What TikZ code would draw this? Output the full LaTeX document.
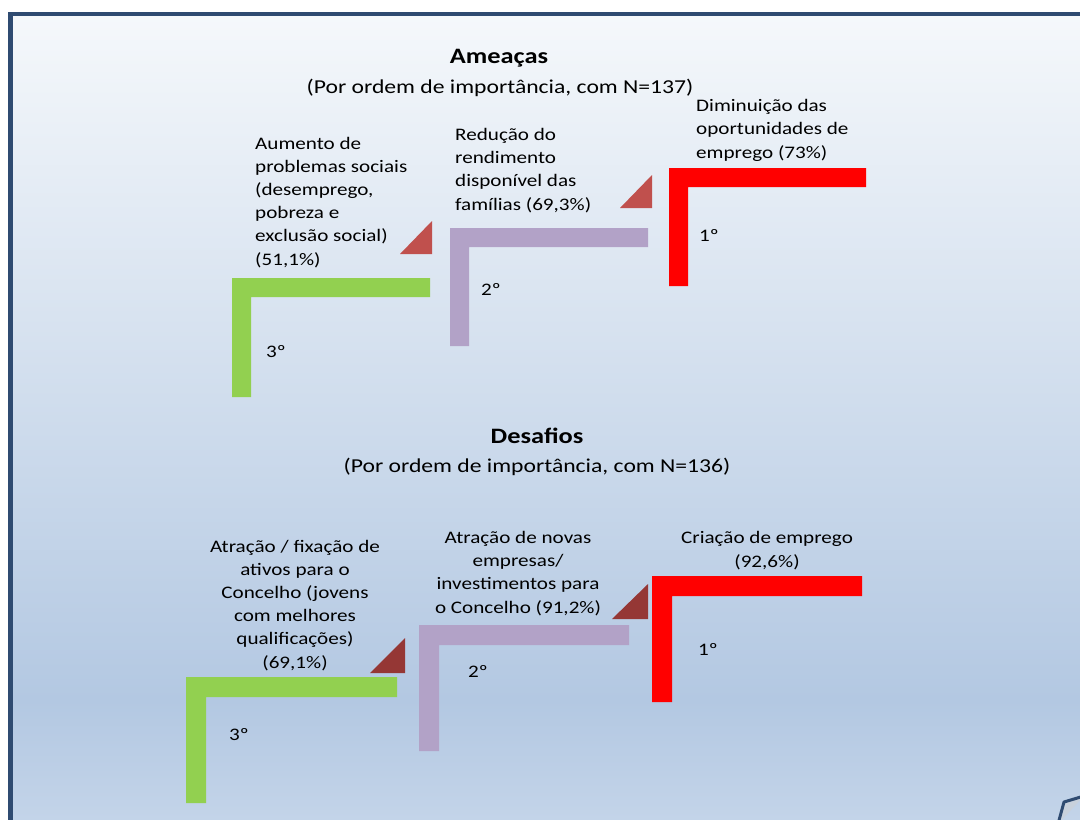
\documentclass[tikz,border=0pt]{standalone}
\usepackage{fontspec}
\setmainfont{Carlito}[FakeStretch=1.2]
\usetikzlibrary{positioning}
\definecolor{frame-blue}{HTML}{2F4B71}
\definecolor{bg-top}{HTML}{F5F8FB}
\definecolor{bg-mid}{HTML}{B3C8E2}
\definecolor{bg-bot}{HTML}{C6D6EA}
\definecolor{rank-one}{HTML}{FF0000}
\definecolor{rank-two}{HTML}{B2A2C7}
\definecolor{rank-three}{HTML}{92D050}
\definecolor{tri-light}{HTML}{C0504D}
\definecolor{tri-dark}{HTML}{953735}
\tikzset{
  lbl/.style={font=\fontsize{17.6}{23.2}\selectfont, inner sep=0pt},
  rank/.style={font=\fontsize{17.6}{22}\selectfont, inner sep=0pt, anchor=base west},
  ttl/.style={font=\fontsize{22}{26}\selectfont\bfseries, inner sep=0pt, anchor=base},
  subttl/.style={font=\fontsize{19.7}{24}\selectfont, inner sep=0pt, anchor=base},
}

\begin{document}
\begin{tikzpicture}[x=1pt,y=-1pt]
  \useasboundingbox (0,0) rectangle (1080,820);
  \clip (0,0) rectangle (1080,820);
  \fill[white] (0,0) rectangle (1080,820);
  % slide background
  \shade[top color=bg-top, bottom color=bg-mid] (10,14) rectangle (1095,700);
  \shade[top color=bg-mid, bottom color=bg-bot] (10,700) rectangle (1095,840);
  \draw[frame-blue, line width=4.5pt] (10.5,14) rectangle (1095,840);
  \filldraw[fill=bg-mid!70!gray!60, draw=frame-blue, line width=3pt, line join=round]
    (1084,796) -- (1064,802) -- (1058,824);

  % Ameacas
  \node[ttl] (ameacas) at (499,63) {Ameaças};
  \node[subttl] (ameacas-n) at (500,93) {(Por ordem de importância, com N=137)};

  \fill[rank-three] (232,397) -- (232,278) -- (430,278) -- (430,297) -- (251,297) -- (251,397) -- cycle;
  \fill[rank-two] (450,346) -- (450,228) -- (648,228) -- (648,247) -- (469,247) -- (469,346) -- cycle;
  \fill[rank-one] (669,286) -- (669,168) -- (866,168) -- (866,187) -- (688,187) -- (688,286) -- cycle;
  \fill[tri-light] (400,254) -- (432,254) -- (432,221) -- cycle;
  \fill[tri-light] (620,208) -- (652,208) -- (652,175) -- cycle;

  % base anchor = baseline of the last line
  \node[lbl, anchor=base west, align=left] (a-three) at (255,265)
    {Aumento de\\problemas sociais\\(desemprego,\\pobreza e\\exclusão social)\\(51,1\%)};
  \node[lbl, anchor=base west, align=left] (a-two) at (455,210)
    {Redução do\\rendimento\\disponível das\\famílias (69,3\%)};
  \node[lbl, anchor=base west, align=left] (a-one) at (696,158)
    {Diminuição das\\oportunidades de\\emprego (73\%)};
  \node[rank] (a-r1) at (699,241) {1º};
  \node[rank] (a-r2) at (481,295) {2º};
  \node[rank] (a-r3) at (266,357) {3º};

  % Desafios
  \node[ttl] (desafios) at (537,443) {Desafios};
  \node[subttl] (desafios-n) at (537,472) {(Por ordem de importância, com N=136)};

  \fill[rank-three] (186,803) -- (186,677) -- (397,677) -- (397,697) -- (206,697) -- (206,803) -- cycle;
  \fill[rank-two] (419,751) -- (419,625) -- (629,625) -- (629,645) -- (439,645) -- (439,751) -- cycle;
  \fill[rank-one] (652,702) -- (652,576) -- (862,576) -- (862,596) -- (672,596) -- (672,702) -- cycle;
  \fill[tri-dark] (370,673) -- (405,673) -- (405,638) -- cycle;
  \fill[tri-dark] (612,619) -- (648,619) -- (648,584) -- cycle;

  \node[lbl, anchor=base, align=center] (d-three) at (295,668)
    {Atração / fixação de\\ativos para o\\Concelho (jovens\\com melhores\\qualificações)\\(69,1\%)};
  \node[lbl, anchor=base, align=center] (d-two) at (518,613)
    {Atração de novas\\empresas/\\investimentos para\\o Concelho (91,2\%)};
  \node[lbl, anchor=base, align=center] (d-one) at (767,567)
    {Criação de emprego\\(92,6\%)};
  \node[rank] (d-r1) at (698,655) {1º};
  \node[rank] (d-r2) at (468,677) {2º};
  \node[rank] (d-r3) at (229,740) {3º};
\end{tikzpicture}
\end{document}
